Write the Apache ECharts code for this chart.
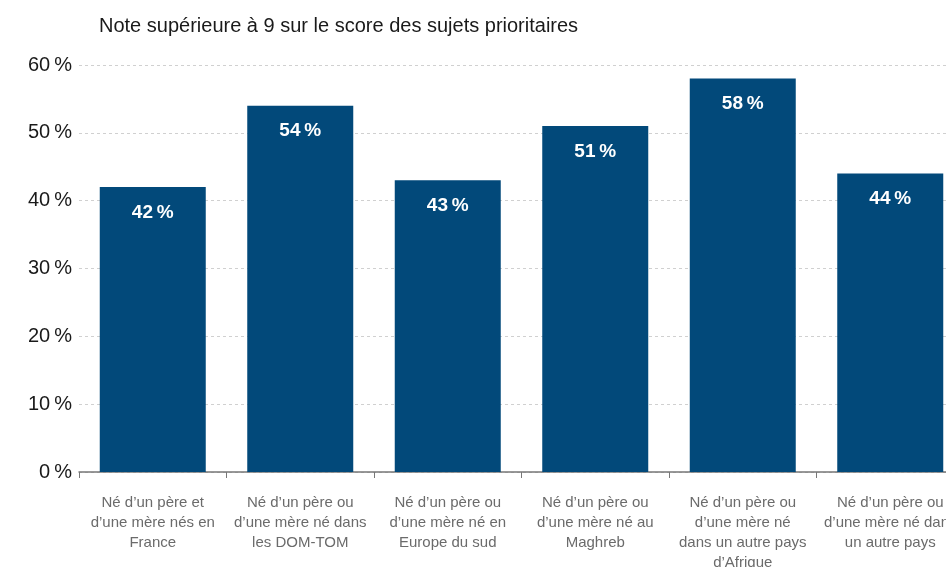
<!DOCTYPE html>
<html>
<head>
<meta charset="utf-8">
<script src="https://cdn.jsdelivr.net/npm/echarts@6/dist/echarts.min.js"></script>
<style>
  html, body { margin: 0; padding: 0; background: #fff; }
  #main { width: 946px; height: 567px; }
</style>
</head>
<body>
<div id="main"></div>
<script>
var titre = "Note supérieure à 9 sur le score des sujets prioritaires";
var categories = [
  "Né d’un père et\nd’une mère nés en\nFrance",
  "Né d’un père ou\nd’une mère né dans\nles DOM-TOM",
  "Né d’un père ou\nd’une mère né en\nEurope du sud",
  "Né d’un père ou\nd’une mère né au\nMaghreb",
  "Né d’un père ou\nd’une mère né\ndans un autre pays\nd’Afrique",
  "Né d’un père ou\nd’une mère né dans\nun autre pays"
];
var valeurs = [42, 54, 43, 51, 58, 44];
var yTicks = [0, 10, 20, 30, 40, 50, 60];

var police = "'Liberation Sans Narrow', 'Arial Narrow', 'Liberation Sans', sans-serif";
var myChart = echarts.init(document.getElementById("main"));

myChart.setOption({
  animation: false,
  title: {
    text: titre,
    left: 94,
    top: 11,
    textStyle: { fontFamily: police, fontSize: 20, fontWeight: "normal", color: "#1a1a1a" }
  },
  grid: { left: 79, top: 65, bottom: 95, right: -18, outerBoundsMode: "none", containLabel: false },
  xAxis: {
    type: "category",
    data: categories,
    axisLine: { lineStyle: { color: "#777", width: 1.5 } },
    axisTick: { show: true, length: 6, alignWithLabel: false, lineStyle: { color: "#777" } },
    axisLabel: {
      interval: 0,
      margin: 21,
      fontFamily: police,
      fontSize: 15,
      lineHeight: 20,
      color: "#6b6b6b"
    }
  },
  yAxis: {
    type: "value",
    min: yTicks[0],
    max: yTicks[yTicks.length - 1],
    interval: 10,
    axisLine: { show: false },
    axisTick: { show: false },
    axisLabel: {
      margin: 7,
      fontFamily: police,
      fontSize: 20,
      color: "#1a1a1a",
      formatter: function (v) { return v + "\u202f%"; }
    },
    splitLine: { lineStyle: { type: [3, 3], color: "#d0d0d0", width: 1 } }
  },
  series: [{
    type: "bar",
    data: valeurs,
    barWidth: 106,
    itemStyle: { color: "#02497a" },
    label: {
      show: true,
      position: "insideTop",
      distance: 16,
      fontFamily: police,
      fontSize: 19,
      fontWeight: "bold",
      color: "#fff",
      formatter: function (p) { return p.value + "\u202f%"; }
    }
  }]
});
</script>
</body>
</html>
